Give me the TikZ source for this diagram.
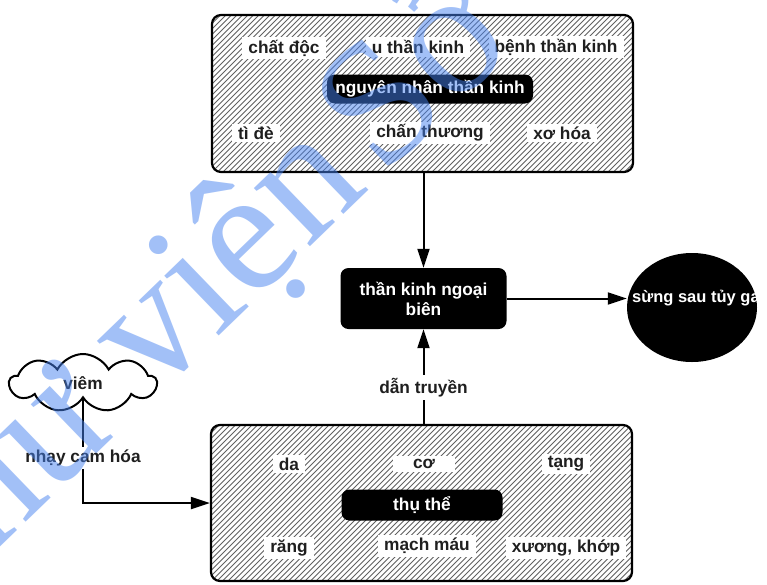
\documentclass[tikz,border=0pt]{standalone}
\usepackage{fontspec}
\setmainfont{Liberation Sans}
\newfontfamily\wmfont{Liberation Serif}
\usetikzlibrary{arrows.meta,shapes.symbols,shapes.geometric,calc}
\definecolor{hatchgray}{gray}{0.38}
\definecolor{inkgray}{gray}{0.12}
\definecolor{wmblue}{RGB}{70,130,240}

\begin{document}
\begin{tikzpicture}[x=1pt,y=-1pt,
  every node/.style={font=\fontsize{17.3}{20}\selectfont\bfseries},
  hatch/.style={draw=hatchgray, line width=0.8pt},
  panel/.style={draw=black, line width=2.2pt, rounded corners=9pt, fill=white, inner sep=0pt,
    path picture={
      \foreach \k in {-56,...,56}
        \draw[hatch] ($(path picture bounding box.center)+(\k*5.5,0)+(-130,130)$) -- ++(260,-260);
    }},
  tag/.style={fill=white, text=inkgray, inner xsep=6pt, inner ysep=3pt},
  darkbox/.style={fill=black, text=white, rounded corners=8pt, inner sep=0pt, align=center},
  link/.style={draw=black, line width=2pt, -{Triangle[length=19pt,width=12pt]}}]

\useasboundingbox (0,0) rectangle (767,584);
\clip (0,0) rectangle (767,584);
\fill[white] (0,0) rectangle (767,584);

% hatched panels
\node[panel, minimum width=421pt, minimum height=157pt] (causes) at (422.5,93.5) {};
\node[panel, minimum width=421pt, minimum height=156pt] (recept) at (421.5,503) {};

% causes panel
\node[tag] (toxin)   at (284,48)  {chất độc};
\node[tag] (tumor)   at (418,47)  {u thần kinh};
\node[tag] (neuro)   at (556,47)  {bệnh thần kinh};
\node[darkbox, minimum width=206pt, minimum height=29pt] (cause) at (430,89) {nguyên nhân thần kinh};
\node[tag] (press)   at (256,133) {tì đè};
\node[tag] (trauma)  at (430,133) {chấn thương};
\node[tag] (fibro)   at (562,133) {xơ hóa};

% receptor panel
\node[tag] (skin)    at (289,464) {da};
\node[tag, minimum width=62pt] (muscle) at (424,464) {cơ};
\node[tag] (organ)   at (566,464) {tạng};
\node[darkbox, minimum width=161pt, minimum height=31pt] (recbox) at (422,505) {thụ thể};
\node[tag] (teeth)   at (289,548) {răng};
\node[tag] (vessel)  at (427,546) {mạch máu};
\node[tag] (bone)    at (566,548) {xương, khớp};

% peripheral nerve and dorsal horn
\node[darkbox, minimum width=166pt, minimum height=61pt] (nerve) at (423.5,298.5) {thần kinh ngoại\\biên};
\node[ellipse, fill=black, minimum width=130pt, minimum height=109pt, inner sep=0pt] (horn) at (692,307.5) {};
\node[anchor=west, text=white, inner sep=0pt, font=\fontsize{16.5}{20}\selectfont\bfseries] (horntxt) at (632,298) {sừng sau tủy gai};

% inflammation
\node[cloud, draw=black, line width=2pt, cloud puffs=9, cloud puff arc=125, aspect=2.6,
      minimum width=147pt, minimum height=58pt, inner sep=0pt, text=inkgray] (infl) at (83,383) {viêm};

% connectors
\draw[link] (causes.south -| nerve.north) -- (nerve.north);
\draw[link] (nerve.east) -- (nerve.east -| horn.west);
\draw[link] (recept.north -| nerve.south) -- node[tag, pos=0.38] (cond) {dẫn truyền} (nerve.south);
\draw[link] (infl.south) -- node[tag, pos=0.57] (sens) {nhạy cam hóa} (infl.south |- recept.west) -- (recept.west);

% library watermark
\node[anchor=base west, rotate=44, inner sep=0pt, text=wmblue, text opacity=0.5,
      font=\wmfont\fontsize{176}{176}\selectfont] (wm) at (-88,632) {Thư viện\hspace{-28pt} Sở Y tế};
\end{tikzpicture}
\end{document}
